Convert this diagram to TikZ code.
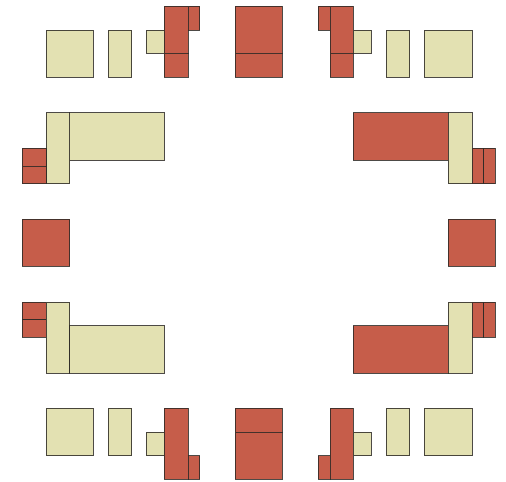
\documentclass[tikz,border=0pt]{standalone}
\usetikzlibrary{}
\definecolor{tileyel}{HTML}{E3E1B2}
\definecolor{tilered}{HTML}{C65D4A}
\definecolor{edgecol}{HTML}{2E2A26}
\begin{document}
\begin{tikzpicture}[
  yel/.style={fill=tileyel, draw=edgecol, line width=0.9pt, draw opacity=0.85},
  redt/.style={fill=tilered, draw=edgecol, line width=0.9pt, draw opacity=0.85}
]
\useasboundingbox (-21.88,-20.22) rectangle (20.90,20.52);
% ---------- top row ----------
\draw[yel] (-18,14) rectangle (-14,18);
\draw[yel] (-12.75,14) rectangle (-10.75,18);
\draw[yel] (-9.5,16) rectangle (-8,18);
\draw[redt] (-8,16) rectangle (-6,20);
\draw[redt] (-8,14) rectangle (-6,16);
\draw[redt] (-6,18) rectangle (-5,20);
\draw[redt] (-2,16) rectangle (2,20);
\draw[redt] (-2,14) rectangle (2,16);
\draw[redt] (5,18) rectangle (6,20);
\draw[redt] (6,16) rectangle (8,20);
\draw[redt] (6,14) rectangle (8,16);
\draw[yel] (8,16) rectangle (9.5,18);
\draw[yel] (10.75,14) rectangle (12.75,18);
\draw[yel] (14,14) rectangle (18,18);
% ---------- upper left group ----------
\draw[yel] (-16,7) rectangle (-8,11);
\draw[yel] (-18,5) rectangle (-16,11);
\draw[redt] (-20,6.5) rectangle (-18,8);
\draw[redt] (-20,5) rectangle (-18,6.5);
% ---------- upper right group ----------
\draw[redt] (8,7) rectangle (16,11);
\draw[yel] (16,5) rectangle (18,11);
\draw[redt] (18,5) rectangle (19,8);
\draw[redt] (19,5) rectangle (20,8);
% ---------- middle squares ----------
\draw[redt] (-20,-2) rectangle (-16,2);
\draw[redt] (16,-2) rectangle (20,2);
% ---------- lower left group ----------
\draw[redt] (-20,-6.5) rectangle (-18,-5);
\draw[redt] (-20,-8) rectangle (-18,-6.5);
\draw[yel] (-18,-11) rectangle (-16,-5);
\draw[yel] (-16,-11) rectangle (-8,-7);
% ---------- lower right group ----------
\draw[redt] (8,-11) rectangle (16,-7);
\draw[yel] (16,-11) rectangle (18,-5);
\draw[redt] (18,-8) rectangle (19,-5);
\draw[redt] (19,-8) rectangle (20,-5);
% ---------- bottom row ----------
\draw[yel] (-18,-18) rectangle (-14,-14);
\draw[yel] (-12.75,-18) rectangle (-10.75,-14);
\draw[yel] (-9.5,-18) rectangle (-8,-16);
\draw[redt] (-8,-20) rectangle (-6,-14);
\draw[redt] (-6,-20) rectangle (-5,-18);
\draw[redt] (-2,-16) rectangle (2,-14);
\draw[redt] (-2,-20) rectangle (2,-16);
\draw[redt] (5,-20) rectangle (6,-18);
\draw[redt] (6,-20) rectangle (8,-14);
\draw[yel] (8,-18) rectangle (9.5,-16);
\draw[yel] (10.75,-18) rectangle (12.75,-14);
\draw[yel] (14,-18) rectangle (18,-14);
\end{tikzpicture}
\end{document}
